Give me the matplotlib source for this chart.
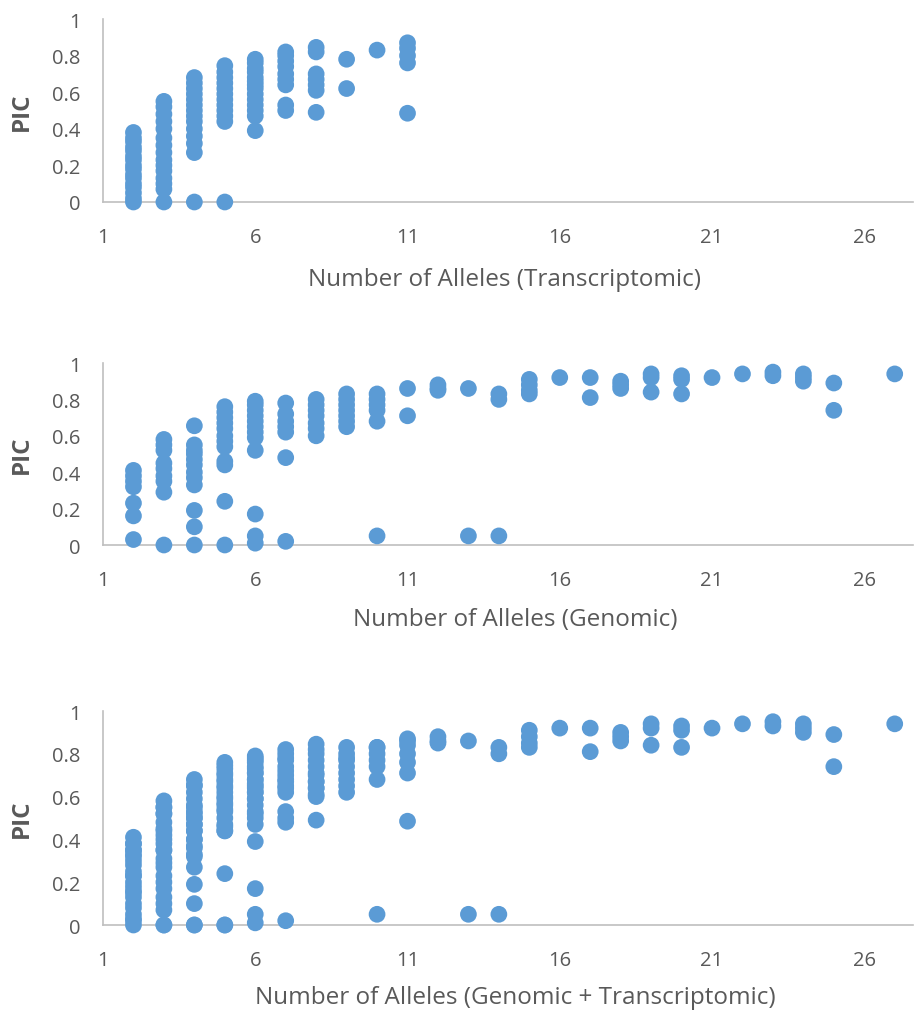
"""PIC versus number of alleles: transcriptomic, genomic and combined markers."""

import matplotlib
matplotlib.use("Agg")
import matplotlib.pyplot as plt

plt.rcParams["font.family"] = ["Open Sans", "DejaVu Sans"]

BLUE = "#5B9BD5"
AXIS_GREY = "#BFBFBF"
TEXT_GREY = "#595959"

# Transcriptomic markers: (number of alleles, PIC)
trans_alleles = (
    [2] * 16 + [3] * 15 + [4] * 14 + [5] * 12 + [6] * 14
    + [7] * 9 + [8] * 7 + [9] * 2 + [10] + [11] * 5
)
trans_pic = [
    # 2 alleles
    0.0, 0.02, 0.05, 0.08, 0.10, 0.13, 0.15, 0.18, 0.20, 0.23, 0.25, 0.28,
    0.30, 0.33, 0.35, 0.38,
    # 3
    0.0, 0.07, 0.10, 0.13, 0.17, 0.20, 0.23, 0.27, 0.31, 0.35, 0.40, 0.44,
    0.48, 0.52, 0.55,
    # 4
    0.0, 0.27, 0.32, 0.36, 0.40, 0.44, 0.47, 0.50, 0.53, 0.56, 0.59, 0.62,
    0.65, 0.68,
    # 5
    0.0, 0.44, 0.47, 0.50, 0.53, 0.56, 0.59, 0.62, 0.65, 0.68, 0.71, 0.745,
    # 6
    0.39, 0.47, 0.50, 0.53, 0.56, 0.59, 0.62, 0.64, 0.66, 0.68, 0.71, 0.73,
    0.76, 0.78,
    # 7
    0.50, 0.53, 0.64, 0.67, 0.70, 0.74, 0.77, 0.80, 0.82,
    # 8
    0.49, 0.61, 0.64, 0.67, 0.70, 0.82, 0.845,
    # 9
    0.62, 0.78,
    # 10
    0.83,
    # 11
    0.485, 0.76, 0.80, 0.84, 0.87,
]

# Genomic markers
gen_alleles = (
    [2] * 7 + [3] * 9 + [4] * 12 + [5] * 12 + [6] * 12 + [7] * 7
    + [8] * 7 + [9] * 7 + [10] * 6 + [11] * 2 + [12] * 3 + [13] * 2
    + [14] * 3 + [15] * 4 + [16] + [17] * 2 + [18] * 3 + [19] * 3
    + [20] * 3 + [21] + [22] + [23] * 2 + [24] * 3 + [25] * 2 + [27]
)
gen_pic = [
    # 2
    0.03, 0.16, 0.23, 0.32, 0.35, 0.38, 0.41,
    # 3
    0.0, 0.29, 0.35, 0.38, 0.42, 0.45, 0.52, 0.55, 0.58,
    # 4
    0.0, 0.10, 0.19, 0.33, 0.37, 0.40, 0.44, 0.47, 0.50, 0.52, 0.55, 0.655,
    # 5
    0.0, 0.24, 0.44, 0.46, 0.54, 0.57, 0.60, 0.64, 0.67, 0.70, 0.73, 0.76,
    # 6
    0.01, 0.05, 0.17, 0.52, 0.59, 0.62, 0.65, 0.68, 0.71, 0.74, 0.77, 0.79,
    # 7
    0.02, 0.48, 0.62, 0.65, 0.68, 0.72, 0.78,
    # 8
    0.60, 0.64, 0.67, 0.71, 0.74, 0.77, 0.80,
    # 9
    0.65, 0.68, 0.71, 0.74, 0.77, 0.80, 0.83,
    # 10
    0.05, 0.68, 0.74, 0.77, 0.80, 0.83,
    # 11
    0.71, 0.86,
    # 12
    0.85, 0.86, 0.88,
    # 13
    0.05, 0.86,
    # 14
    0.05, 0.80, 0.83,
    # 15
    0.83, 0.85, 0.88, 0.91,
    # 16
    0.92,
    # 17
    0.81, 0.92,
    # 18
    0.86, 0.88, 0.90,
    # 19
    0.84, 0.92, 0.94,
    # 20
    0.83, 0.91, 0.93,
    # 21
    0.92,
    # 22
    0.94,
    # 23
    0.93, 0.95,
    # 24
    0.90, 0.92, 0.94,
    # 25
    0.74, 0.89,
    # 27
    0.94,
]

# The combined panel shows both marker sets together
all_alleles = trans_alleles + gen_alleles
all_pic = trans_pic + gen_pic

x_ticks = [1, 6, 11, 16, 21, 26]
y_ticks = [0, 0.2, 0.4, 0.6, 0.8, 1]
y_tick_labels = ["0", "0.2", "0.4", "0.6", "0.8", "1"]

panels = [
    (trans_alleles, trans_pic, "Number of Alleles (Transcriptomic)"),
    (gen_alleles, gen_pic, "Number of Alleles (Genomic)"),
    (all_alleles, all_pic, "Number of Alleles (Genomic + Transcriptomic)"),
]

W, H = 914, 1012
fig = plt.figure(figsize=(W / 100, H / 100), dpi=100)

# axes boxes in pixels: (y of the 0 line, y of the 1 line)
boxes = [(203, 20), (546, 364), (926, 712)]
left_px, right_px = 103, 913
label_pos = [(505, 280), (515, 620), (515, 998)]
span = right_px - left_px

for (xs, ys, xlabel), (bot, top), (lx, ly) in zip(panels, boxes, label_pos):
    ax = fig.add_axes([left_px / W, 1 - bot / H, span / W, (bot - top) / H])
    ax.scatter(xs, ys, s=145, color=BLUE, edgecolors="none",
               clip_on=False, zorder=3)
    ax.set_xlim(1, 27.6)
    ax.set_ylim(0, 1)
    ax.set_xticks(x_ticks)
    ax.set_yticks(y_ticks)
    ax.set_yticklabels(y_tick_labels)
    ax.tick_params(length=0, labelsize=14.5, colors=TEXT_GREY)
    ax.tick_params(axis="x", pad=18)
    ax.tick_params(axis="y", pad=16)
    for side in ("top", "right"):
        ax.spines[side].set_visible(False)
    for side in ("left", "bottom"):
        ax.spines[side].set_color(AXIS_GREY)
        ax.spines[side].set_linewidth(1.2)
    ax.set_ylabel("PIC", fontsize=17.5, fontweight="bold", color=TEXT_GREY,
                  va="center")
    ax.yaxis.set_label_coords(-81 / span, 0.5)
    ax.set_xlabel(xlabel, fontsize=17.5, color=TEXT_GREY, va="center")
    ax.xaxis.set_label_coords((lx - left_px) / span,
                              (bot - ly) / (bot - top))

fig.savefig("out.png", dpi=100, facecolor="white")
